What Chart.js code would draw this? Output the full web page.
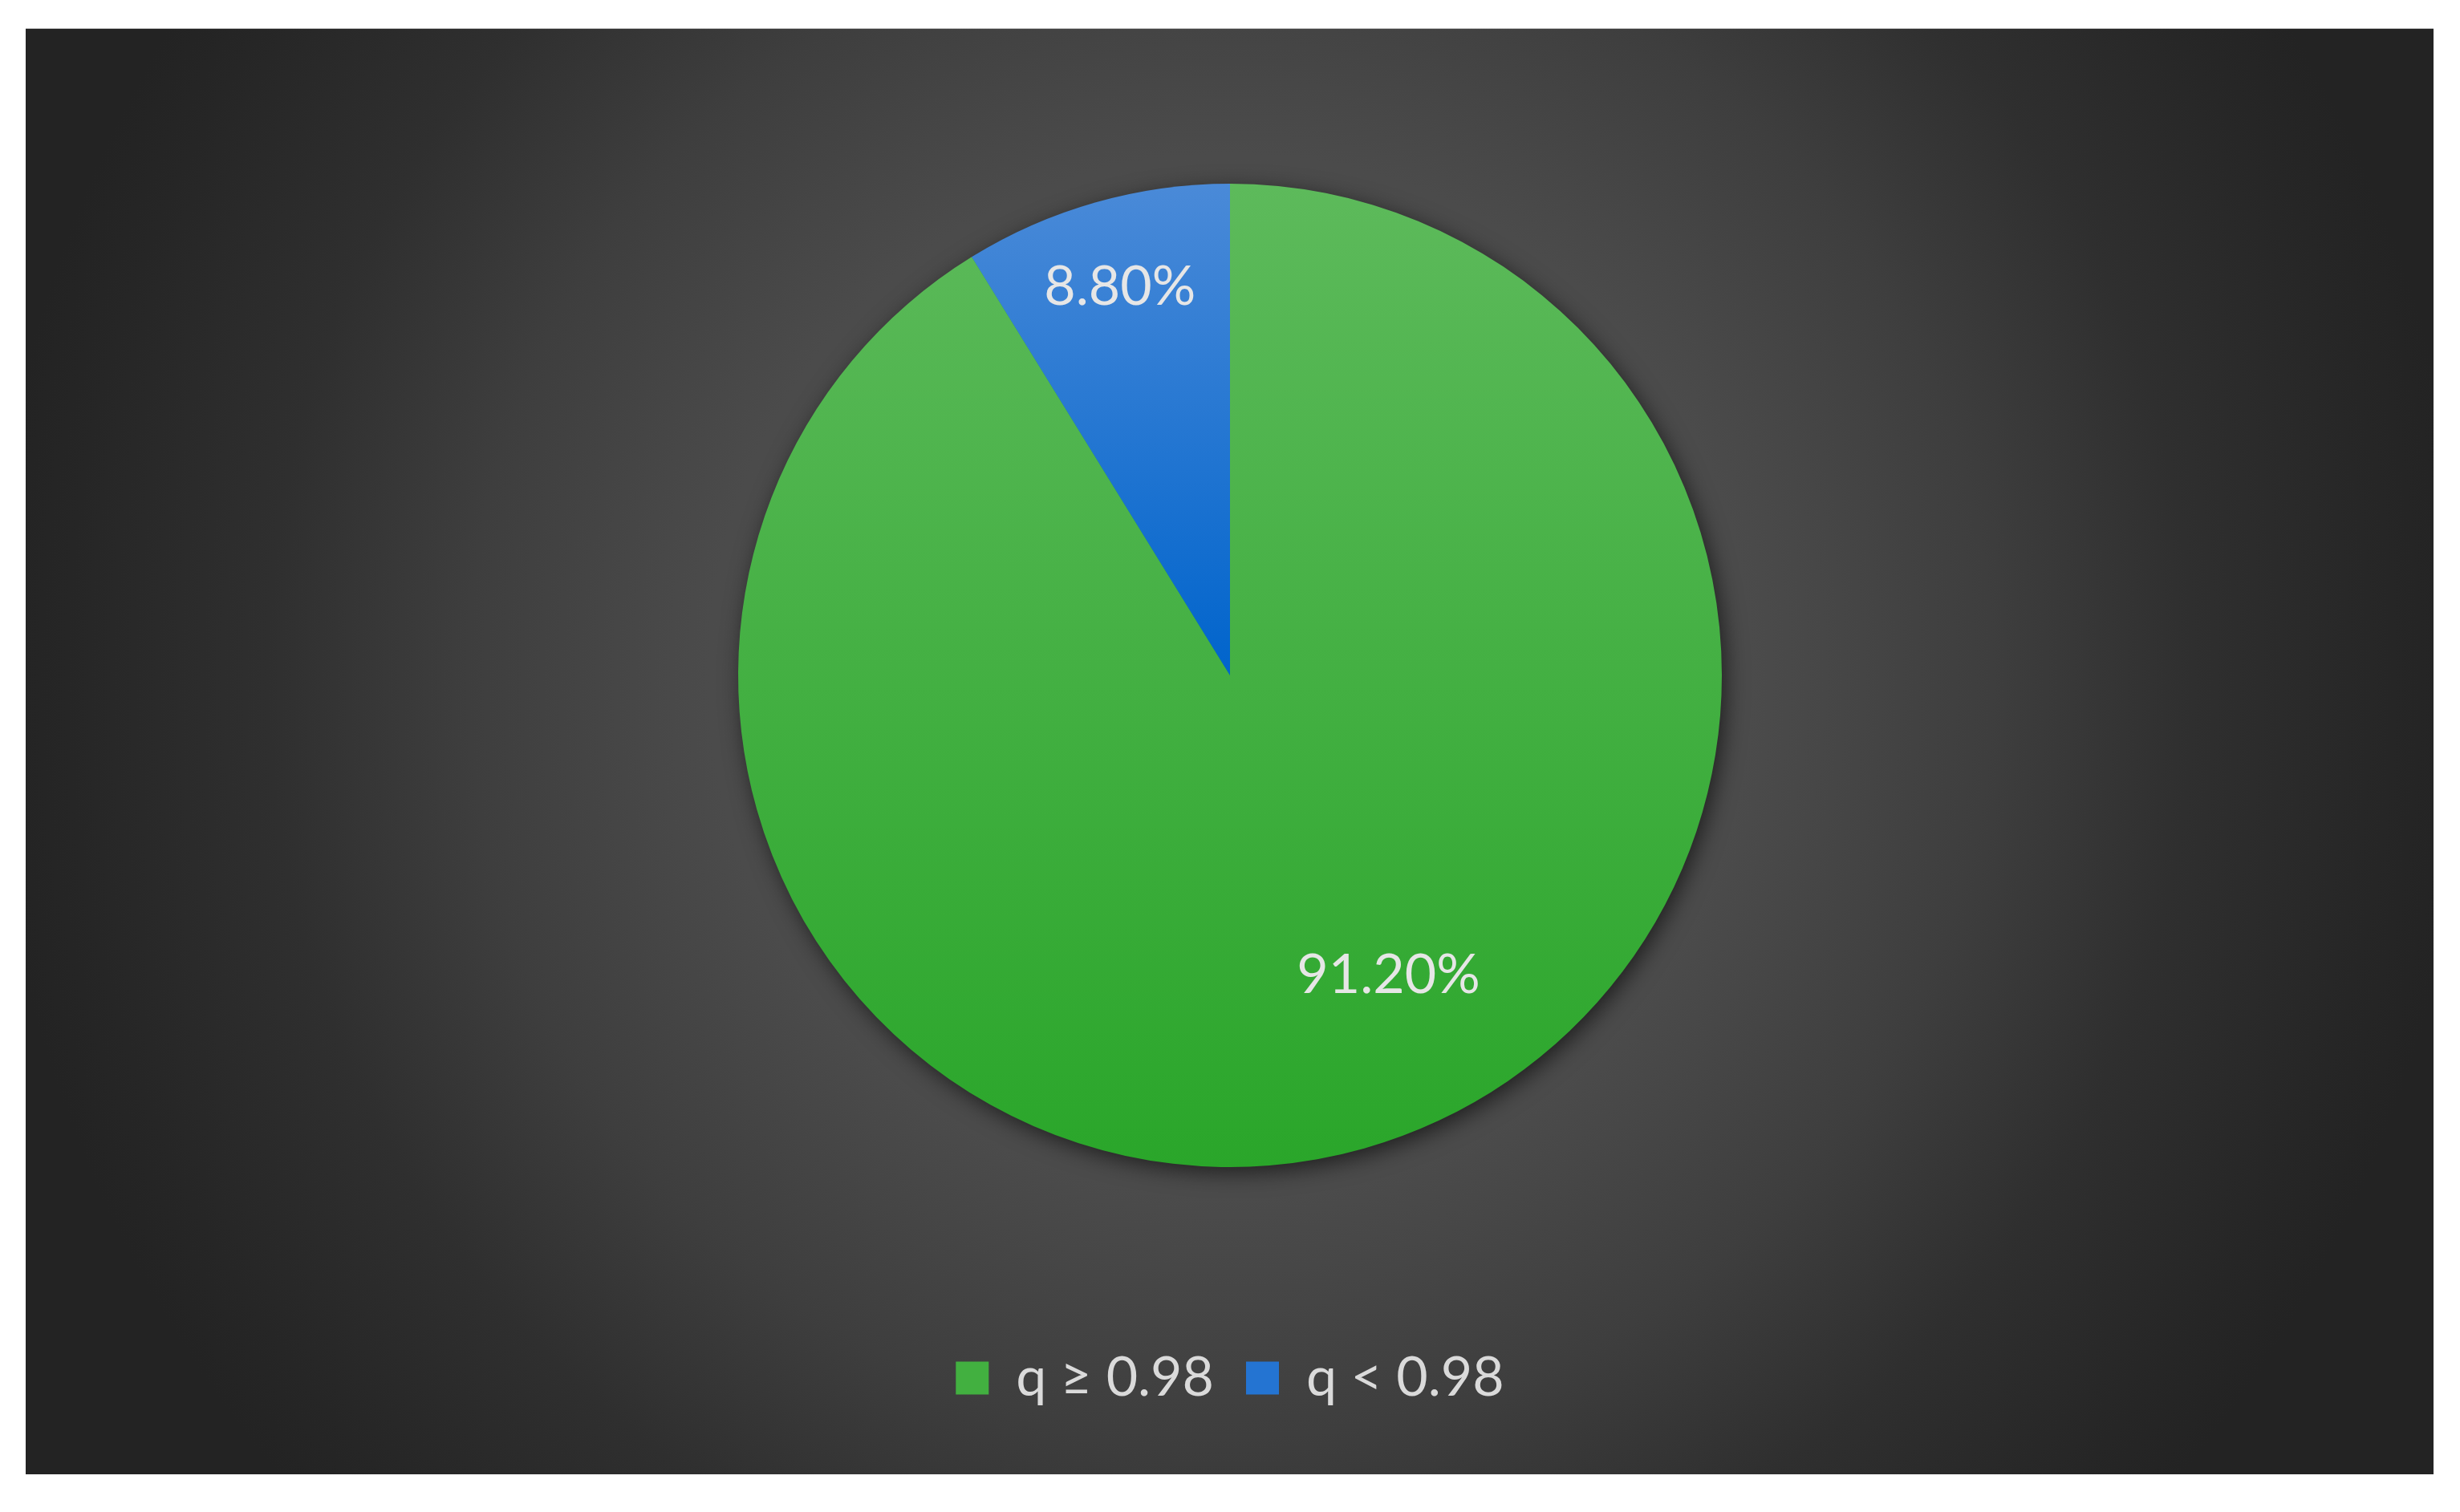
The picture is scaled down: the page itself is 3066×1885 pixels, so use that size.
<!DOCTYPE html>
<html>
<head>
<meta charset="utf-8">
<script src="https://cdn.jsdelivr.net/npm/chart.js@4.4.0/dist/chart.umd.min.js"></script>
<style>
  html, body { margin: 0; padding: 0; background: #fff; }
  body { width: 3066px; height: 1885px; position: relative; overflow: hidden; }
  .panel {
    position: absolute; left: 32px; top: 35px; width: 3001px; height: 1803px;
    border-top: 1px solid #c4c4c4; box-sizing: border-box;
    background: radial-gradient(circle 1550px at 1501px 806px,
      #4e4e4e 0px, #4b4b4b 650px, #3e3e3e 950px, #2f2f2f 1200px, #262626 1450px, #232323 1550px);
  }
  #pie { position: absolute; left: 0; top: 0; }
</style>
</head>
<body>
<div class="panel"></div>
<canvas id="pie" width="3066" height="1885"></canvas>
<script>
const categories = ['q ≥ 0.98', 'q < 0.98'];
const shares = [91.2, 8.8];

// top / bottom of each slice's gradient (Excel style shading)
const topColors = ['#5dba5b', '#4a8ad8'];
const bottomColors = ['#2aa62a', '#0064cc'];
const flatColors = ['#42b040', '#2474d2'];

// label placement along the slice: fraction of radius, angle shift in degrees
const labelRadius = [0.69, 0.82];
const labelShift = [-12, 0];

function sliceBox(arc) {
  // vertical extent of a sector
  let ys = [arc.y, arc.y + Math.sin(arc.startAngle) * arc.outerRadius, arc.y + Math.sin(arc.endAngle) * arc.outerRadius];
  [-Math.PI / 2, Math.PI / 2, 1.5 * Math.PI, 2.5 * Math.PI].forEach(a => {
    if (a >= arc.startAngle && a <= arc.endAngle) ys.push(arc.y + Math.sin(a) * arc.outerRadius);
  });
  return [Math.min(...ys), Math.max(...ys)];
}

const shading = {
  id: 'shading',
  beforeDatasetsDraw(chart) {
    const ctx = chart.ctx;
    const arcs = chart.getDatasetMeta(0).data;
    if (!arcs.length) return;
    const a0 = arcs[0];
    // soft shadow under the pie
    ctx.save();
    ctx.shadowColor = 'rgba(0,0,0,0.6)';
    ctx.shadowBlur = 28;
    ctx.shadowOffsetX = 5;
    ctx.shadowOffsetY = 7;
    ctx.fillStyle = '#2aa62a';
    ctx.beginPath();
    ctx.arc(a0.x, a0.y, a0.outerRadius - 1, 0, Math.PI * 2);
    ctx.fill();
    ctx.restore();
    arcs.forEach((arc, i) => {
      const [y1, y2] = sliceBox(arc);
      const g = ctx.createLinearGradient(0, y1, 0, y2);
      g.addColorStop(0, topColors[i]);
      g.addColorStop(1, bottomColors[i]);
      arc.options.backgroundColor = g;
    });
  }
};

const sliceLabels = {
  id: 'sliceLabels',
  afterDatasetsDraw(chart) {
    const ctx = chart.ctx;
    const ds = chart.data.datasets[0];
    chart.getDatasetMeta(0).data.forEach((arc, i) => {
      const mid = (arc.startAngle + arc.endAngle) / 2 + labelShift[i] * Math.PI / 180;
      const r = arc.outerRadius * labelRadius[i];
      ctx.save();
      ctx.font = '68px Lato';
      ctx.fillStyle = '#e6e6e6';
      ctx.textAlign = 'center';
      ctx.textBaseline = 'middle';
      ctx.fillText(ds.data[i].toFixed(2) + '%', arc.x + Math.cos(mid) * r, arc.y + Math.sin(mid) * r);
      ctx.restore();
    });
  }
};

new Chart(document.getElementById('pie'), {
  type: 'pie',
  data: {
    labels: categories,
    datasets: [{
      data: shares,
      backgroundColor: flatColors,
      borderWidth: 0,
      radius: 613
    }]
  },
  options: {
    responsive: false,
    animation: false,
    layout: { padding: { top: 40, bottom: 123 } },
    plugins: {
      tooltip: { enabled: false },
      legend: {
        position: 'bottom',
        labels: {
          boxWidth: 41,
          boxHeight: 41,
          padding: 40,
          color: '#dadada',
          font: { family: 'Lato', size: 68 }
        }
      }
    }
  },
  plugins: [shading, sliceLabels]
});
</script>
</body>
</html>
